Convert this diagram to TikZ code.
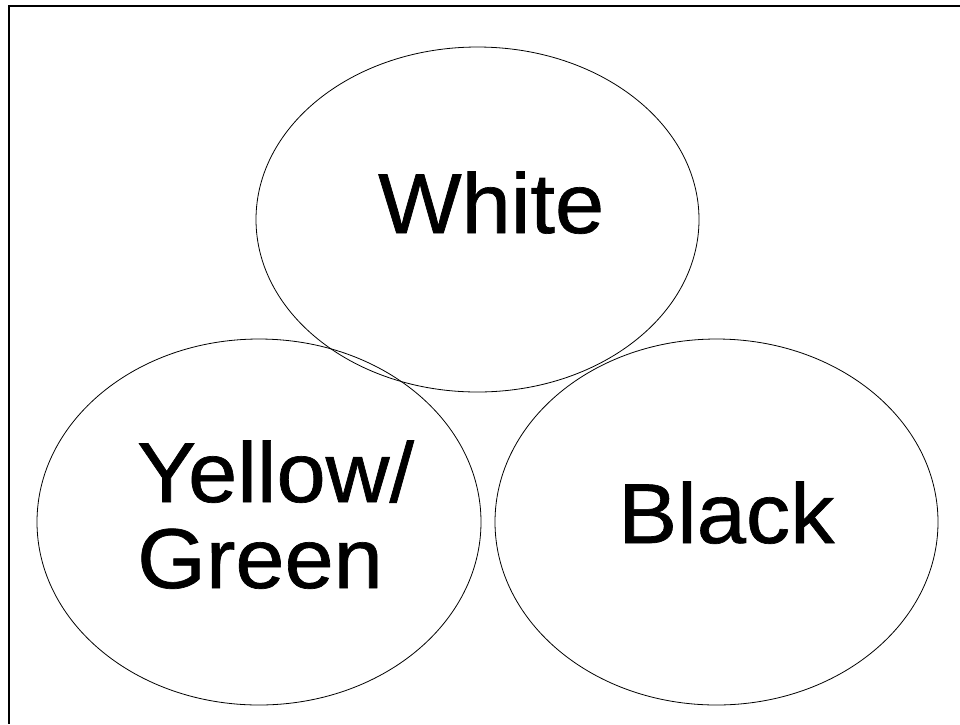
\documentclass[tikz,border=0pt]{standalone}
\usepackage{fontspec}
\setmainfont{Liberation Sans}
\newfontfamily\labfont{Liberation Sans}[FakeBold=0.8,FakeStretch=1.04]
\begin{document}
\begin{tikzpicture}[x=1pt,y=-1pt,
  ring/.style={draw=black,line width=0.8pt},
  frame/.style={draw=black,line width=2pt},
  label/.style={anchor=base west,inner sep=0pt,font=\labfont\fontsize{85}{86}\selectfont,align=left}]
\useasboundingbox (0,0) rectangle (960,724);
\draw[frame] (960,6) -- (9,6) -- (9,724);
\draw[ring] (477.5,219.5) ellipse [x radius=221.5pt, y radius=172.5pt];
\draw[ring] (259,522) ellipse [x radius=222pt, y radius=183pt];
\draw[ring] (716.5,522) ellipse [x radius=221.5pt, y radius=183pt];
\node[label] (white) at (378,233) {White};
\node[label] (yg) at (137,588) {Yellow/\\Green};
\node[label] (black) at (618,543) {Black};
\end{tikzpicture}
\end{document}
